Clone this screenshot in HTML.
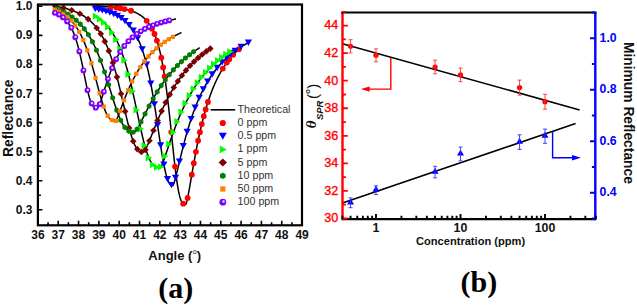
<!DOCTYPE html><html><head><meta charset="utf-8"><style>
*{margin:0;padding:0}
html,body{width:637px;height:305px;background:#fff;overflow:hidden}
svg{position:absolute;left:0;top:0}
text{font-family:"Liberation Sans",sans-serif}
.lyt{font-size:12px;font-weight:bold;text-anchor:end;fill:#111}
.lxt{font-size:12px;font-weight:bold;text-anchor:middle;fill:#111}
.ylab{font-size:13.8px;font-weight:bold;text-anchor:start;fill:#111}
.xlab{font-size:13px;font-weight:bold;fill:#111}
.leg{font-size:10.7px;fill:#333}
.plab{font-family:"Liberation Serif",serif;font-size:30px;font-weight:bold;text-anchor:middle;fill:#000}
.ryt{font-size:12.6px;text-anchor:end;fill:#ff0000;stroke:#ff0000;stroke-width:0.35px}
.bt{font-size:12.3px;font-weight:bold;fill:#0000ff}
.rxt{font-size:12.4px;font-weight:bold;text-anchor:middle;fill:#111}
.clab{font-size:11.1px;font-weight:bold;fill:#111}
.th{fill:#111}
.thg{font-family:"Liberation Serif",serif;font-style:italic;font-weight:bold;font-size:15px}
.sub{font-size:9.5px;font-style:italic;font-weight:bold}
.par{font-size:15px;font-weight:normal}
.deg{font-size:7.5px;font-weight:bold}
</style></head><body><svg width="637" height="305" viewBox="0 0 637 305">
<g id="left">
<defs><clipPath id="lc"><rect x="37.9" y="4.5" width="264" height="221"/></clipPath></defs>
<g clip-path="url(#lc)">
<polyline fill="none" stroke="#000" stroke-width="1.5" points="95.5,6.02 95.86,6.03 96.22,6.05 96.59,6.07 96.95,6.09 97.31,6.1 97.67,6.12 98.04,6.14 98.4,6.16 98.76,6.18 99.12,6.2 99.48,6.22 99.85,6.24 100.21,6.26 100.57,6.28 100.93,6.3 101.29,6.32 101.66,6.34 102.02,6.37 102.38,6.39 102.74,6.41 103.11,6.44 103.47,6.46 103.83,6.48 104.19,6.51 104.55,6.53 104.92,6.56 105.28,6.59 105.64,6.61 106,6.64 106.36,6.67 106.73,6.7 107.09,6.72 107.45,6.75 107.81,6.78 108.18,6.81 108.54,6.84 108.9,6.88 109.26,6.91 109.62,6.94 109.99,6.97 110.35,7.01 110.71,7.04 111.07,7.08 111.43,7.11 111.8,7.15 112.16,7.19 112.52,7.22 112.88,7.26 113.25,7.3 113.61,7.34 113.97,7.38 114.33,7.43 114.69,7.47 115.06,7.51 115.42,7.56 115.78,7.6 116.14,7.65 116.51,7.69 116.87,7.74 117.23,7.79 117.59,7.84 117.95,7.89 118.32,7.95 118.68,8 119.04,8.05 119.4,8.11 119.76,8.17 120.13,8.23 120.49,8.29 120.85,8.35 121.21,8.41 121.58,8.47 121.94,8.54 122.3,8.6 122.66,8.67 123.02,8.74 123.39,8.81 123.75,8.88 124.11,8.96 124.47,9.04 124.83,9.11 125.2,9.19 125.56,9.27 125.92,9.36 126.28,9.44 126.65,9.53 127.01,9.62 127.37,9.71 127.73,9.81 128.09,9.9 128.46,10 128.82,10.1 129.18,10.21 129.54,10.31 129.9,10.42 130.27,10.53 130.63,10.65 130.99,10.77 131.35,10.89 131.72,11.01 132.08,11.14 132.44,11.27 132.8,11.4 133.16,11.54 133.53,11.68 133.89,11.82 134.25,11.97 134.61,12.12 134.97,12.28 135.34,12.44 135.7,12.6 136.06,12.77 136.42,12.95 136.79,13.13 137.15,13.31 137.51,13.5 137.87,13.7 138.23,13.9 138.6,14.1 138.96,14.32 139.32,14.54 139.68,14.76 140.05,14.99 140.41,15.23 140.77,15.48 141.13,15.73 141.49,15.99 141.86,16.26 142.22,16.54 142.58,16.82 142.94,17.12 143.3,17.42 143.67,17.74 144.03,18.06 144.39,18.39 144.75,18.74 145.12,19.09 145.48,19.46 145.84,19.84 146.2,20.23 146.56,20.63 146.93,21.05 147.29,21.48 147.65,21.93 148.01,22.39 148.37,22.87 148.74,23.36 149.1,23.87 149.46,24.4 149.82,24.94 150.19,25.51 150.55,26.09 150.91,26.7 151.27,27.33 151.63,27.98 152,28.65 152.36,29.35 152.72,30.07 153.08,30.82 153.44,31.59 153.81,32.4 154.17,33.23 154.53,34.09 154.89,34.99 155.26,35.92 155.62,36.88 155.98,37.88 156.34,38.92 156.7,39.99 157.07,41.11 157.43,42.26 157.79,43.46 158.15,44.71 158.52,46 158.88,47.34 159.24,48.73 159.6,50.18 159.96,51.67 160.33,53.22 160.69,54.83 161.05,56.5 161.41,58.23 161.77,60.02 162.14,61.88 162.5,63.8 162.86,65.79 163.22,67.85 163.59,69.98 163.95,72.18 164.31,74.46 164.67,76.81 165.03,79.23 165.4,81.73 165.76,84.31 166.12,86.96 166.48,89.69 166.84,92.5 167.21,95.37 167.57,98.32 167.93,101.34 168.29,104.43 168.66,107.58 169.02,110.79 169.38,114.06 169.74,117.38 170.1,120.75 170.47,124.15 170.83,127.59 171.19,131.06 171.55,134.54 171.91,138.02 172.28,141.51 172.64,144.98 173,148.44 173.36,151.86 173.73,155.24 174.09,158.56 174.45,161.82 174.81,165 175.17,168.1 175.54,171.1 175.9,174 176.26,176.78 176.62,179.44 176.98,181.97 177.35,184.36 177.71,186.61 178.07,188.72 178.43,190.68 178.8,192.49 179.16,194.16 179.52,195.67 179.88,197.04 180.24,198.27 180.61,199.36 180.97,200.31 181.33,201.14 181.69,201.85 182.06,202.45 182.42,202.95 182.78,203.35 183.14,203.67 183.5,203.91 183.87,204.09 184.23,204.21 184.59,204.29 184.95,204.33 185.31,204.35 185.68,204.36 186.04,204.01 186.4,202.98 186.76,201.67 187.13,200.17 187.49,198.53 187.85,196.78 188.21,194.95 188.57,193.04 188.94,191.09 189.3,189.08 189.66,187.05 190.02,184.98 190.38,182.9 190.75,180.81 191.11,178.7 191.47,176.6 191.83,174.5 192.2,172.4 192.56,170.31 192.92,168.23 193.28,166.16 193.64,164.11 194.01,162.08 194.37,160.06 194.73,158.07 195.09,156.1 195.45,154.14 195.82,152.22 196.18,150.31 196.54,148.43 196.9,146.58 197.27,144.75 197.63,142.95 197.99,141.17 198.35,139.42 198.71,137.7 199.08,136 199.44,134.33 199.8,132.68 200.16,131.06 200.53,129.46 200.89,127.9 201.25,126.35 201.61,124.83 201.97,123.34 202.34,121.87 202.7,120.43 203.06,119.01 203.42,117.61 203.78,116.24 204.15,114.89 204.51,113.56 204.87,112.25 205.23,110.97 205.6,109.71 205.96,108.47 206.32,107.25 206.68,106.05 207.04,104.87 207.41,103.71 207.77,102.58 208.13,101.46 208.49,100.35 208.85,99.27 209.22,98.21 209.58,97.16 209.94,96.13 210.3,95.12 210.67,94.12 211.03,93.14 211.39,92.18 211.75,91.23 212.11,90.3 212.48,89.38 212.84,88.48 213.2,87.6 213.56,86.72 213.92,85.86 214.29,85.02 214.65,84.19 215.01,83.37 215.37,82.57 215.74,81.77 216.1,80.99 216.46,80.23 216.82,79.47 217.18,78.73 217.55,77.99 217.91,77.27 218.27,76.56 218.63,75.86 218.99,75.18 219.36,74.5 219.72,73.83 220.08,73.17 220.44,72.53 220.81,71.89 221.17,71.26 221.53,70.64 221.89,70.03 222.25,69.43 222.62,68.84 222.98,68.25 223.34,67.68 223.7,67.11 224.07,66.55 224.43,66 224.79,65.46 225.15,64.92 225.51,64.4 225.88,63.88 226.24,63.36 226.6,62.86 226.96,62.36 227.32,61.87 227.69,61.38 228.05,60.9 228.41,60.43 228.77,59.96 229.14,59.51 229.5,59.05 229.86,58.61 230.22,58.16 230.58,57.73 230.95,57.3 231.31,56.88 231.67,56.46 232.03,56.04 232.39,55.64 232.76,55.23 233.12,54.84 233.48,54.44 233.84,54.06 234.21,53.68 234.57,53.3 234.93,52.93 235.29,52.56 235.65,52.19 236.02,51.84 236.38,51.48 236.74,51.13 237.1,50.79 237.46,50.44 237.83,50.11 238.19,49.77 238.55,49.44 238.91,49.12 239.28,48.8 239.64,48.48 240,48.17"/>
<polyline fill="none" stroke="#000" stroke-width="1.5" points="95,8.79 95.38,8.86 95.77,8.93 96.15,9 96.54,9.07 96.92,9.14 97.31,9.22 97.69,9.29 98.08,9.37 98.46,9.45 98.84,9.53 99.23,9.61 99.61,9.69 100,9.77 100.38,9.86 100.77,9.94 101.15,10.03 101.54,10.12 101.92,10.21 102.3,10.3 102.69,10.4 103.07,10.5 103.46,10.59 103.84,10.69 104.23,10.8 104.61,10.9 105,11.01 105.38,11.11 105.76,11.22 106.15,11.34 106.53,11.45 106.92,11.57 107.3,11.69 107.69,11.81 108.07,11.93 108.46,12.06 108.84,12.19 109.23,12.32 109.61,12.45 109.99,12.59 110.38,12.73 110.76,12.87 111.15,13.02 111.53,13.16 111.92,13.31 112.3,13.47 112.69,13.63 113.07,13.79 113.45,13.95 113.84,14.12 114.22,14.29 114.61,14.47 114.99,14.65 115.38,14.83 115.76,15.02 116.15,15.21 116.53,15.41 116.91,15.61 117.3,15.81 117.68,16.02 118.07,16.23 118.45,16.45 118.84,16.68 119.22,16.9 119.61,17.14 119.99,17.38 120.37,17.62 120.76,17.87 121.14,18.13 121.53,18.39 121.91,18.66 122.3,18.94 122.68,19.22 123.07,19.51 123.45,19.81 123.83,20.11 124.22,20.42 124.6,20.74 124.99,21.07 125.37,21.4 125.76,21.75 126.14,22.1 126.53,22.46 126.91,22.83 127.29,23.21 127.68,23.6 128.06,24 128.45,24.41 128.83,24.83 129.22,25.26 129.6,25.7 129.99,26.16 130.37,26.62 130.75,27.1 131.14,27.59 131.52,28.1 131.91,28.62 132.29,29.15 132.68,29.7 133.06,30.26 133.45,30.84 133.83,31.43 134.22,32.04 134.6,32.67 134.98,33.31 135.37,33.98 135.75,34.66 136.14,35.36 136.52,36.08 136.91,36.82 137.29,37.58 137.68,38.37 138.06,39.17 138.44,40 138.83,40.85 139.21,41.73 139.6,42.63 139.98,43.56 140.37,44.52 140.75,45.5 141.14,46.51 141.52,47.55 141.9,48.62 142.29,49.72 142.67,50.86 143.06,52.02 143.44,53.22 143.83,54.45 144.21,55.72 144.6,57.03 144.98,58.37 145.36,59.75 145.75,61.16 146.13,62.62 146.52,64.12 146.9,65.65 147.29,67.23 147.67,68.85 148.06,70.52 148.44,72.22 148.82,73.98 149.21,75.77 149.59,77.61 149.98,79.5 150.36,81.43 150.75,83.4 151.13,85.43 151.52,87.49 151.9,89.6 152.28,91.76 152.67,93.95 153.05,96.19 153.44,98.48 153.82,100.8 154.21,103.15 154.59,105.55 154.98,107.98 155.36,110.44 155.74,112.93 156.13,115.45 156.51,117.99 156.9,120.55 157.28,123.12 157.67,125.71 158.05,128.3 158.44,130.89 158.82,133.49 159.21,136.07 159.59,138.64 159.97,141.19 160.36,143.72 160.74,146.22 161.13,148.68 161.51,151.09 161.9,153.46 162.28,155.78 162.67,158.03 163.05,160.22 163.43,162.33 163.82,164.37 164.2,166.32 164.59,168.19 164.97,169.97 165.36,171.65 165.74,173.24 166.13,174.72 166.51,176.11 166.89,177.39 167.28,178.57 167.66,179.64 168.05,180.61 168.43,181.48 168.82,182.25 169.2,182.92 169.59,183.5 169.97,183.98 170.35,184.39 170.74,184.71 171.12,184.96 171.51,185.14 171.89,185.27 172.28,185.34 172.66,185.38 173.05,185.39 173.43,184.77 173.81,183.75 174.2,182.57 174.58,181.28 174.97,179.91 175.35,178.48 175.74,177 176.12,175.48 176.51,173.93 176.89,172.36 177.27,170.78 177.66,169.18 178.04,167.57 178.43,165.96 178.81,164.35 179.2,162.74 179.58,161.13 179.97,159.53 180.35,157.93 180.73,156.34 181.12,154.77 181.5,153.2 181.89,151.64 182.27,150.1 182.66,148.57 183.04,147.05 183.43,145.55 183.81,144.07 184.19,142.6 184.58,141.15 184.96,139.71 185.35,138.29 185.73,136.88 186.12,135.5 186.5,134.13 186.89,132.77 187.27,131.44 187.66,130.12 188.04,128.82 188.42,127.53 188.81,126.26 189.19,125.01 189.58,123.78 189.96,122.56 190.35,121.36 190.73,120.18 191.12,119.01 191.5,117.86 191.88,116.72 192.27,115.6 192.65,114.49 193.04,113.4 193.42,112.33 193.81,111.27 194.19,110.23 194.58,109.2 194.96,108.18 195.34,107.18 195.73,106.19 196.11,105.22 196.5,104.26 196.88,103.32 197.27,102.38 197.65,101.46 198.04,100.56 198.42,99.66 198.8,98.78 199.19,97.91 199.57,97.05 199.96,96.21 200.34,95.38 200.73,94.55 201.11,93.74 201.5,92.94 201.88,92.15 202.26,91.38 202.65,90.61 203.03,89.85 203.42,89.1 203.8,88.37 204.19,87.64 204.57,86.93 204.96,86.22 205.34,85.52 205.72,84.83 206.11,84.15 206.49,83.48 206.88,82.82 207.26,82.17 207.65,81.52 208.03,80.89 208.42,80.26 208.8,79.64 209.18,79.03 209.57,78.43 209.95,77.83 210.34,77.24 210.72,76.66 211.11,76.09 211.49,75.52 211.88,74.96 212.26,74.41 212.65,73.87 213.03,73.33 213.41,72.8 213.8,72.27 214.18,71.75 214.57,71.24 214.95,70.74 215.34,70.24 215.72,69.74 216.11,69.26 216.49,68.77 216.87,68.3 217.26,67.83 217.64,67.36 218.03,66.9 218.41,66.45 218.8,66 219.18,65.56 219.57,65.12 219.95,64.69 220.33,64.26 220.72,63.84 221.1,63.42 221.49,63.01 221.87,62.6 222.26,62.19 222.64,61.8 223.03,61.4 223.41,61.01 223.79,60.62 224.18,60.24 224.56,59.86 224.95,59.49 225.33,59.12 225.72,58.76 226.1,58.4 226.49,58.04 226.87,57.69 227.25,57.34 227.64,56.99 228.02,56.65 228.41,56.31 228.79,55.98 229.18,55.64 229.56,55.32 229.95,54.99 230.33,54.67 230.71,54.35 231.1,54.04 231.48,53.73 231.87,53.42 232.25,53.12 232.64,52.82 233.02,52.52 233.41,52.22 233.79,51.93 234.17,51.64 234.56,51.35 234.94,51.07 235.33,50.79 235.71,50.51 236.1,50.24 236.48,49.96 236.87,49.69 237.25,49.43 237.64,49.16 238.02,48.9 238.4,48.64 238.79,48.38 239.17,48.13 239.56,47.88 239.94,47.63 240.33,47.38 240.71,47.13 241.1,46.89 241.48,46.65 241.86,46.41 242.25,46.18 242.63,45.94 243.02,45.71 243.4,45.48 243.79,45.26 244.17,45.03 244.56,44.81 244.94,44.59 245.32,44.37 245.71,44.15 246.09,43.94 246.48,43.72 246.86,43.51 247.25,43.3 247.63,43.09 248.02,42.89 248.4,42.68"/>
<polyline fill="none" stroke="#000" stroke-width="1.5" points="95.5,16.02 95.84,16.23 96.19,16.44 96.53,16.65 96.88,16.87 97.22,17.09 97.57,17.32 97.91,17.55 98.26,17.79 98.6,18.03 98.95,18.27 99.29,18.52 99.64,18.78 99.98,19.04 100.32,19.3 100.67,19.57 101.01,19.84 101.36,20.13 101.7,20.41 102.05,20.7 102.39,21 102.74,21.3 103.08,21.61 103.43,21.93 103.77,22.25 104.12,22.58 104.46,22.91 104.8,23.25 105.15,23.6 105.49,23.95 105.84,24.32 106.18,24.69 106.53,25.06 106.87,25.45 107.22,25.84 107.56,26.24 107.91,26.65 108.25,27.07 108.6,27.49 108.94,27.93 109.28,28.37 109.63,28.82 109.97,29.28 110.32,29.76 110.66,30.24 111.01,30.73 111.35,31.23 111.7,31.74 112.04,32.26 112.39,32.8 112.73,33.34 113.08,33.9 113.42,34.47 113.76,35.04 114.11,35.64 114.45,36.24 114.8,36.86 115.14,37.49 115.49,38.13 115.83,38.78 116.18,39.45 116.52,40.13 116.87,40.83 117.21,41.54 117.56,42.27 117.9,43.01 118.24,43.77 118.59,44.54 118.93,45.32 119.28,46.13 119.62,46.95 119.97,47.78 120.31,48.64 120.66,49.51 121,50.39 121.35,51.3 121.69,52.22 122.04,53.16 122.38,54.12 122.72,55.1 123.07,56.09 123.41,57.1 123.76,58.14 124.1,59.19 124.45,60.26 124.79,61.35 125.14,62.46 125.48,63.59 125.83,64.74 126.17,65.91 126.52,67.1 126.86,68.31 127.2,69.54 127.55,70.79 127.89,72.06 128.24,73.35 128.58,74.66 128.93,75.99 129.27,77.33 129.62,78.7 129.96,80.08 130.31,81.49 130.65,82.91 130.99,84.35 131.34,85.8 131.68,87.27 132.03,88.76 132.37,90.26 132.72,91.78 133.06,93.31 133.41,94.86 133.75,96.42 134.1,97.99 134.44,99.57 134.79,101.16 135.13,102.75 135.47,104.36 135.82,105.97 136.16,107.59 136.51,109.21 136.85,110.83 137.2,112.46 137.54,114.08 137.89,115.71 138.23,117.33 138.58,118.94 138.92,120.55 139.27,122.16 139.61,123.75 139.95,125.33 140.3,126.9 140.64,128.46 140.99,130 141.33,131.52 141.68,133.02 142.02,134.51 142.37,135.97 142.71,137.41 143.06,138.82 143.4,140.21 143.75,141.57 144.09,142.9 144.43,144.2 144.78,145.46 145.12,146.7 145.47,147.9 145.81,149.07 146.16,150.2 146.5,151.29 146.85,152.35 147.19,153.37 147.54,154.35 147.88,155.29 148.23,156.2 148.57,157.06 148.91,157.89 149.26,158.67 149.6,159.42 149.95,160.13 150.29,160.8 150.64,161.43 150.98,162.02 151.33,162.58 151.67,163.1 152.02,163.59 152.36,164.04 152.71,164.45 153.05,164.83 153.39,165.19 153.74,165.51 154.08,165.8 154.43,166.06 154.77,166.3 155.12,166.51 155.46,166.69 155.81,166.85 156.15,166.99 156.5,167.12 156.84,167.22 157.19,167.3 157.53,167.37 157.87,167.43 158.22,167.47 158.56,167.51 158.91,167.53 159.25,167.54 159.6,167.55 159.94,167.56 160.29,167.56 160.63,167.55 160.98,167.07 161.32,166.41 161.67,165.68 162.01,164.88 162.35,164.03 162.7,163.15 163.04,162.24 163.39,161.3 163.73,160.35 164.08,159.38 164.42,158.39 164.77,157.39 165.11,156.38 165.46,155.37 165.8,154.35 166.15,153.32 166.49,152.3 166.83,151.27 167.18,150.24 167.52,149.2 167.87,148.17 168.21,147.14 168.56,146.12 168.9,145.09 169.25,144.07 169.59,143.06 169.94,142.04 170.28,141.03 170.63,140.03 170.97,139.03 171.31,138.04 171.66,137.05 172,136.07 172.35,135.1 172.69,134.13 173.04,133.17 173.38,132.22 173.73,131.27 174.07,130.33 174.42,129.4 174.76,128.47 175.11,127.55 175.45,126.64 175.79,125.74 176.14,124.85 176.48,123.96 176.83,123.08 177.17,122.21 177.52,121.34 177.86,120.49 178.21,119.64 178.55,118.8 178.9,117.96 179.24,117.14 179.59,116.32 179.93,115.51 180.27,114.7 180.62,113.91 180.96,113.12 181.31,112.34 181.65,111.57 182,110.8 182.34,110.04 182.69,109.29 183.03,108.55 183.38,107.81 183.72,107.09 184.07,106.36 184.41,105.65 184.75,104.94 185.1,104.24 185.44,103.55 185.79,102.86 186.13,102.18 186.48,101.5 186.82,100.84 187.17,100.18 187.51,99.52 187.86,98.88 188.2,98.23 188.55,97.6 188.89,96.97 189.23,96.35 189.58,95.73 189.92,95.12 190.27,94.52 190.61,93.92 190.96,93.33 191.3,92.74 191.65,92.16 191.99,91.59 192.34,91.02 192.68,90.45 193.03,89.89 193.37,89.34 193.71,88.79 194.06,88.25 194.4,87.72 194.75,87.18 195.09,86.66 195.44,86.14 195.78,85.62 196.13,85.11 196.47,84.6 196.82,84.1 197.16,83.6 197.51,83.11 197.85,82.62 198.19,82.14 198.54,81.66 198.88,81.19 199.23,80.72 199.57,80.25 199.92,79.79 200.26,79.34 200.61,78.88 200.95,78.44 201.3,77.99 201.64,77.55 201.98,77.12 202.33,76.69 202.67,76.26 203.02,75.84 203.36,75.42 203.71,75 204.05,74.59 204.4,74.18 204.74,73.78 205.09,73.38 205.43,72.98 205.78,72.59 206.12,72.2 206.46,71.81 206.81,71.43 207.15,71.05 207.5,70.67 207.84,70.3 208.19,69.93 208.53,69.56 208.88,69.2 209.22,68.84 209.57,68.48 209.91,68.13 210.26,67.78 210.6,67.43 210.94,67.09 211.29,66.75 211.63,66.41 211.98,66.07 212.32,65.74 212.67,65.41 213.01,65.08 213.36,64.76 213.7,64.44 214.05,64.12 214.39,63.8 214.74,63.49 215.08,63.18 215.42,62.87 215.77,62.57 216.11,62.26 216.46,61.96 216.8,61.66 217.15,61.37 217.49,61.08 217.84,60.78 218.18,60.5 218.53,60.21 218.87,59.93 219.22,59.65 219.56,59.37 219.9,59.09 220.25,58.82 220.59,58.54 220.94,58.27 221.28,58 221.63,57.74 221.97,57.48 222.32,57.21 222.66,56.95 223.01,56.7 223.35,56.44 223.7,56.19 224.04,55.94 224.38,55.69 224.73,55.44 225.07,55.19 225.42,54.95 225.76,54.71 226.11,54.47 226.45,54.23 226.8,53.99 227.14,53.76 227.49,53.53 227.83,53.29 228.18,53.06 228.52,52.84 228.86,52.61 229.21,52.39 229.55,52.16 229.9,51.94 230.24,51.72 230.59,51.51 230.93,51.29 231.28,51.08 231.62,50.86 231.97,50.65 232.31,50.44 232.66,50.24 233,50.03"/>
<polyline fill="none" stroke="#000" stroke-width="1.5" points="55,6.15 55.39,6.22 55.78,6.28 56.17,6.35 56.55,6.42 56.94,6.49 57.33,6.57 57.72,6.64 58.11,6.71 58.5,6.79 58.88,6.87 59.27,6.95 59.66,7.02 60.05,7.11 60.44,7.19 60.83,7.27 61.22,7.36 61.6,7.44 61.99,7.53 62.38,7.62 62.77,7.71 63.16,7.8 63.55,7.89 63.93,7.99 64.32,8.09 64.71,8.19 65.1,8.29 65.49,8.39 65.88,8.49 66.27,8.6 66.65,8.7 67.04,8.81 67.43,8.92 67.82,9.04 68.21,9.15 68.6,9.27 68.98,9.39 69.37,9.51 69.76,9.63 70.15,9.75 70.54,9.88 70.93,10.01 71.32,10.14 71.7,10.28 72.09,10.42 72.48,10.56 72.87,10.7 73.26,10.84 73.65,10.99 74.04,11.14 74.42,11.29 74.81,11.45 75.2,11.61 75.59,11.77 75.98,11.93 76.37,12.1 76.75,12.27 77.14,12.45 77.53,12.62 77.92,12.81 78.31,12.99 78.7,13.18 79.09,13.37 79.47,13.57 79.86,13.77 80.25,13.97 80.64,14.18 81.03,14.39 81.42,14.6 81.8,14.82 82.19,15.05 82.58,15.28 82.97,15.51 83.36,15.75 83.75,15.99 84.14,16.24 84.52,16.5 84.91,16.76 85.3,17.02 85.69,17.29 86.08,17.57 86.47,17.85 86.85,18.13 87.24,18.43 87.63,18.73 88.02,19.03 88.41,19.35 88.8,19.67 89.19,19.99 89.57,20.33 89.96,20.67 90.35,21.01 90.74,21.37 91.13,21.73 91.52,22.1 91.9,22.48 92.29,22.87 92.68,23.27 93.07,23.67 93.46,24.09 93.85,24.51 94.24,24.94 94.62,25.39 95.01,25.84 95.4,26.3 95.79,26.77 96.18,27.26 96.57,27.75 96.95,28.26 97.34,28.78 97.73,29.31 98.12,29.85 98.51,30.4 98.9,30.97 99.29,31.55 99.67,32.14 100.06,32.75 100.45,33.37 100.84,34 101.23,34.65 101.62,35.31 102.01,35.99 102.39,36.69 102.78,37.4 103.17,38.13 103.56,38.87 103.95,39.63 104.34,40.41 104.72,41.2 105.11,42.02 105.5,42.85 105.89,43.7 106.28,44.57 106.67,45.46 107.06,46.37 107.44,47.3 107.83,48.25 108.22,49.22 108.61,50.21 109,51.22 109.39,52.26 109.77,53.31 110.16,54.39 110.55,55.49 110.94,56.62 111.33,57.76 111.72,58.93 112.11,60.13 112.49,61.34 112.88,62.58 113.27,63.85 113.66,65.13 114.05,66.44 114.44,67.78 114.82,69.13 115.21,70.51 115.6,71.92 115.99,73.34 116.38,74.79 116.77,76.26 117.16,77.75 117.54,79.26 117.93,80.79 118.32,82.35 118.71,83.92 119.1,85.51 119.49,87.11 119.87,88.73 120.26,90.37 120.65,92.02 121.04,93.68 121.43,95.35 121.82,97.04 122.21,98.73 122.59,100.42 122.98,102.12 123.37,103.83 123.76,105.53 124.15,107.23 124.54,108.93 124.92,110.63 125.31,112.31 125.7,113.99 126.09,115.65 126.48,117.3 126.87,118.93 127.26,120.55 127.64,122.14 128.03,123.71 128.42,125.25 128.81,126.76 129.2,128.24 129.59,129.68 129.97,131.1 130.36,132.47 130.75,133.8 131.14,135.1 131.53,136.35 131.92,137.55 132.31,138.71 132.69,139.82 133.08,140.88 133.47,141.9 133.86,142.86 134.25,143.77 134.64,144.63 135.03,145.44 135.41,146.2 135.8,146.91 136.19,147.56 136.58,148.17 136.97,148.72 137.36,149.23 137.74,149.69 138.13,150.1 138.52,150.47 138.91,150.79 139.3,151.07 139.69,151.32 140.08,151.52 140.46,151.7 140.85,151.84 141.24,151.95 141.63,152.03 142.02,152.09 142.41,152.13 142.79,152.15 143.18,152.16 143.57,152.17 143.96,151.88 144.35,151.4 144.74,150.81 145.13,150.16 145.51,149.45 145.9,148.7 146.29,147.91 146.68,147.09 147.07,146.25 147.46,145.38 147.84,144.49 148.23,143.59 148.62,142.67 149.01,141.74 149.4,140.8 149.79,139.84 150.18,138.89 150.56,137.92 150.95,136.95 151.34,135.98 151.73,135 152.12,134.03 152.51,133.05 152.89,132.07 153.28,131.09 153.67,130.11 154.06,129.14 154.45,128.17 154.84,127.2 155.23,126.23 155.61,125.27 156,124.31 156.39,123.36 156.78,122.41 157.17,121.46 157.56,120.52 157.94,119.59 158.33,118.67 158.72,117.74 159.11,116.83 159.5,115.92 159.89,115.02 160.28,114.13 160.66,113.24 161.05,112.36 161.44,111.48 161.83,110.62 162.22,109.76 162.61,108.91 162.99,108.06 163.38,107.22 163.77,106.39 164.16,105.57 164.55,104.76 164.94,103.95 165.33,103.15 165.71,102.36 166.1,101.57 166.49,100.8 166.88,100.02 167.27,99.26 167.66,98.51 168.05,97.76 168.43,97.02 168.82,96.29 169.21,95.56 169.6,94.84 169.99,94.13 170.38,93.42 170.76,92.73 171.15,92.04 171.54,91.35 171.93,90.68 172.32,90.01 172.71,89.34 173.1,88.69 173.48,88.04 173.87,87.4 174.26,86.76 174.65,86.13 175.04,85.51 175.43,84.89 175.81,84.28 176.2,83.68 176.59,83.08 176.98,82.49 177.37,81.9 177.76,81.32 178.15,80.75 178.53,80.18 178.92,79.62 179.31,79.06 179.7,78.51 180.09,77.97 180.48,77.43 180.86,76.9 181.25,76.37 181.64,75.84 182.03,75.33 182.42,74.82 182.81,74.31 183.2,73.81 183.58,73.31 183.97,72.82 184.36,72.33 184.75,71.85 185.14,71.37 185.53,70.9 185.91,70.44 186.3,69.97 186.69,69.52 187.08,69.06 187.47,68.61 187.86,68.17 188.25,67.73 188.63,67.29 189.02,66.86 189.41,66.44 189.8,66.01 190.19,65.6 190.58,65.18 190.96,64.77 191.35,64.37 191.74,63.96 192.13,63.57 192.52,63.17 192.91,62.78 193.3,62.39 193.68,62.01 194.07,61.63 194.46,61.26 194.85,60.88 195.24,60.52 195.63,60.15 196.02,59.79 196.4,59.43 196.79,59.08 197.18,58.73 197.57,58.38 197.96,58.03 198.35,57.69 198.73,57.35 199.12,57.02 199.51,56.69 199.9,56.36 200.29,56.03 200.68,55.71 201.07,55.39 201.45,55.07 201.84,54.76 202.23,54.45 202.62,54.14 203.01,53.83 203.4,53.53 203.78,53.23 204.17,52.94 204.56,52.64 204.95,52.35 205.34,52.06 205.73,51.77 206.12,51.49 206.5,51.21 206.89,50.93 207.28,50.65 207.67,50.38 208.06,50.11 208.45,49.84 208.83,49.57 209.22,49.31 209.61,49.04 210,48.78"/>
<polyline fill="none" stroke="#000" stroke-width="1.5" points="55,8.47 55.36,8.59 55.73,8.72 56.09,8.84 56.45,8.97 56.81,9.1 57.18,9.23 57.54,9.36 57.9,9.5 58.26,9.64 58.63,9.78 58.99,9.92 59.35,10.07 59.71,10.21 60.08,10.36 60.44,10.51 60.8,10.67 61.17,10.82 61.53,10.98 61.89,11.15 62.25,11.31 62.62,11.48 62.98,11.65 63.34,11.82 63.7,11.99 64.07,12.17 64.43,12.35 64.79,12.53 65.15,12.72 65.52,12.91 65.88,13.1 66.24,13.3 66.61,13.5 66.97,13.7 67.33,13.91 67.69,14.12 68.06,14.33 68.42,14.55 68.78,14.77 69.14,14.99 69.51,15.22 69.87,15.45 70.23,15.69 70.59,15.93 70.96,16.17 71.32,16.42 71.68,16.67 72.04,16.93 72.41,17.19 72.77,17.45 73.13,17.72 73.5,18 73.86,18.28 74.22,18.56 74.58,18.85 74.95,19.15 75.31,19.45 75.67,19.75 76.03,20.06 76.4,20.38 76.76,20.7 77.12,21.03 77.48,21.36 77.85,21.7 78.21,22.05 78.57,22.4 78.94,22.76 79.3,23.12 79.66,23.49 80.02,23.87 80.39,24.25 80.75,24.64 81.11,25.04 81.47,25.44 81.84,25.86 82.2,26.28 82.56,26.7 82.92,27.14 83.29,27.58 83.65,28.03 84.01,28.49 84.38,28.96 84.74,29.43 85.1,29.92 85.46,30.41 85.83,30.91 86.19,31.42 86.55,31.94 86.91,32.47 87.28,33.01 87.64,33.56 88,34.12 88.36,34.69 88.73,35.26 89.09,35.85 89.45,36.45 89.82,37.06 90.18,37.68 90.54,38.31 90.9,38.95 91.27,39.6 91.63,40.27 91.99,40.94 92.35,41.63 92.72,42.33 93.08,43.04 93.44,43.76 93.8,44.49 94.17,45.24 94.53,46 94.89,46.77 95.25,47.55 95.62,48.35 95.98,49.16 96.34,49.98 96.71,50.81 97.07,51.66 97.43,52.51 97.79,53.39 98.16,54.27 98.52,55.17 98.88,56.08 99.24,57 99.61,57.94 99.97,58.88 100.33,59.84 100.69,60.82 101.06,61.8 101.42,62.8 101.78,63.81 102.15,64.83 102.51,65.86 102.87,66.91 103.23,67.96 103.6,69.03 103.96,70.11 104.32,71.19 104.68,72.29 105.05,73.4 105.41,74.51 105.77,75.64 106.13,76.77 106.5,77.91 106.86,79.06 107.22,80.21 107.59,81.37 107.95,82.53 108.31,83.7 108.67,84.88 109.04,86.05 109.4,87.23 109.76,88.41 110.12,89.6 110.49,90.78 110.85,91.96 111.21,93.14 111.57,94.32 111.94,95.49 112.3,96.66 112.66,97.82 113.03,98.98 113.39,100.13 113.75,101.27 114.11,102.4 114.48,103.53 114.84,104.64 115.2,105.74 115.56,106.82 115.93,107.89 116.29,108.95 116.65,109.99 117.01,111.01 117.38,112.01 117.74,113 118.1,113.96 118.46,114.91 118.83,115.83 119.19,116.73 119.55,117.61 119.92,118.46 120.28,119.29 120.64,120.09 121,120.87 121.37,121.62 121.73,122.35 122.09,123.05 122.45,123.72 122.82,124.37 123.18,124.98 123.54,125.57 123.9,126.13 124.27,126.67 124.63,127.18 124.99,127.65 125.36,128.11 125.72,128.53 126.08,128.93 126.44,129.3 126.81,129.65 127.17,129.97 127.53,130.26 127.89,130.53 128.26,130.78 128.62,131 128.98,131.21 129.34,131.39 129.71,131.55 130.07,131.69 130.43,131.81 130.8,131.92 131.16,132.01 131.52,132.08 131.88,132.14 132.25,132.19 132.61,132.23 132.97,132.25 133.33,132.27 133.7,132.28 134.06,132.29 134.42,132.29 134.78,132.09 135.15,131.73 135.51,131.29 135.87,130.81 136.24,130.29 136.6,129.73 136.96,129.16 137.32,128.56 137.69,127.95 138.05,127.32 138.41,126.68 138.77,126.02 139.14,125.36 139.5,124.68 139.86,124 140.22,123.31 140.59,122.62 140.95,121.92 141.31,121.22 141.67,120.51 142.04,119.8 142.4,119.09 142.76,118.38 143.13,117.67 143.49,116.95 143.85,116.24 144.21,115.53 144.58,114.81 144.94,114.1 145.3,113.39 145.66,112.68 146.03,111.97 146.39,111.27 146.75,110.57 147.11,109.87 147.48,109.17 147.84,108.47 148.2,107.78 148.57,107.09 148.93,106.4 149.29,105.72 149.65,105.04 150.02,104.37 150.38,103.7 150.74,103.03 151.1,102.37 151.47,101.71 151.83,101.05 152.19,100.4 152.55,99.75 152.92,99.11 153.28,98.47 153.64,97.84 154.01,97.21 154.37,96.58 154.73,95.96 155.09,95.34 155.46,94.73 155.82,94.12 156.18,93.52 156.54,92.92 156.91,92.33 157.27,91.74 157.63,91.15 157.99,90.57 158.36,89.99 158.72,89.42 159.08,88.86 159.45,88.29 159.81,87.74 160.17,87.18 160.53,86.63 160.9,86.09 161.26,85.55 161.62,85.01 161.98,84.48 162.35,83.95 162.71,83.43 163.07,82.91 163.43,82.4 163.8,81.89 164.16,81.38 164.52,80.88 164.88,80.38 165.25,79.89 165.61,79.4 165.97,78.92 166.34,78.43 166.7,77.96 167.06,77.49 167.42,77.02 167.79,76.55 168.15,76.09 168.51,75.63 168.87,75.18 169.24,74.73 169.6,74.29 169.96,73.84 170.32,73.41 170.69,72.97 171.05,72.54 171.41,72.11 171.78,71.69 172.14,71.27 172.5,70.85 172.86,70.44 173.23,70.03 173.59,69.63 173.95,69.22 174.31,68.82 174.68,68.43 175.04,68.04 175.4,67.65 175.76,67.26 176.13,66.88 176.49,66.5 176.85,66.12 177.22,65.75 177.58,65.38 177.94,65.01 178.3,64.65 178.67,64.29 179.03,63.93 179.39,63.58 179.75,63.22 180.12,62.87 180.48,62.53 180.84,62.19 181.2,61.84 181.57,61.51 181.93,61.17 182.29,60.84 182.66,60.51 183.02,60.18 183.38,59.86 183.74,59.54 184.11,59.22 184.47,58.9 184.83,58.59 185.19,58.28 185.56,57.97 185.92,57.66 186.28,57.36 186.64,57.06 187.01,56.76 187.37,56.46 187.73,56.17 188.09,55.88 188.46,55.59 188.82,55.3 189.18,55.02 189.55,54.73 189.91,54.45 190.27,54.18 190.63,53.9 191,53.63 191.36,53.35 191.72,53.08 192.08,52.82 192.45,52.55 192.81,52.29 193.17,52.03 193.53,51.77 193.9,51.51 194.26,51.26 194.62,51 194.99,50.75 195.35,50.5 195.71,50.25 196.07,50.01 196.44,49.76 196.8,49.52 197.16,49.28 197.52,49.04 197.89,48.81 198.25,48.57 198.61,48.34 198.97,48.11 199.34,47.88 199.7,47.65"/>
<polyline fill="none" stroke="#000" stroke-width="1.5" points="54.5,9.7 54.82,9.83 55.14,9.96 55.45,10.09 55.77,10.22 56.09,10.35 56.41,10.49 56.73,10.63 57.05,10.77 57.36,10.92 57.68,11.07 58,11.22 58.32,11.37 58.64,11.53 58.96,11.69 59.27,11.85 59.59,12.01 59.91,12.18 60.23,12.35 60.55,12.53 60.87,12.7 61.18,12.88 61.5,13.07 61.82,13.26 62.14,13.45 62.46,13.64 62.78,13.84 63.09,14.04 63.41,14.25 63.73,14.46 64.05,14.67 64.37,14.89 64.69,15.11 65,15.34 65.32,15.57 65.64,15.81 65.96,16.05 66.28,16.29 66.6,16.54 66.91,16.79 67.23,17.05 67.55,17.32 67.87,17.59 68.19,17.86 68.51,18.15 68.82,18.43 69.14,18.72 69.46,19.02 69.78,19.33 70.1,19.64 70.41,19.95 70.73,20.28 71.05,20.61 71.37,20.94 71.69,21.28 72.01,21.63 72.32,21.99 72.64,22.36 72.96,22.73 73.28,23.11 73.6,23.5 73.92,23.89 74.23,24.29 74.55,24.71 74.87,25.13 75.19,25.55 75.51,25.99 75.83,26.44 76.14,26.9 76.46,27.36 76.78,27.84 77.1,28.32 77.42,28.82 77.74,29.32 78.05,29.84 78.37,30.36 78.69,30.9 79.01,31.45 79.33,32 79.65,32.57 79.96,33.16 80.28,33.75 80.6,34.35 80.92,34.97 81.24,35.6 81.56,36.24 81.87,36.9 82.19,37.57 82.51,38.25 82.83,38.94 83.15,39.65 83.46,40.37 83.78,41.11 84.1,41.86 84.42,42.62 84.74,43.4 85.06,44.19 85.37,45 85.69,45.82 86.01,46.65 86.33,47.5 86.65,48.37 86.97,49.25 87.28,50.14 87.6,51.05 87.92,51.98 88.24,52.92 88.56,53.87 88.88,54.84 89.19,55.82 89.51,56.82 89.83,57.83 90.15,58.86 90.47,59.89 90.79,60.95 91.1,62.01 91.42,63.09 91.74,64.18 92.06,65.29 92.38,66.4 92.7,67.53 93.01,68.67 93.33,69.81 93.65,70.97 93.97,72.13 94.29,73.31 94.61,74.49 94.92,75.67 95.24,76.86 95.56,78.06 95.88,79.26 96.2,80.46 96.52,81.67 96.83,82.87 97.15,84.08 97.47,85.28 97.79,86.48 98.11,87.67 98.42,88.87 98.74,90.05 99.06,91.23 99.38,92.39 99.7,93.55 100.02,94.7 100.33,95.83 100.65,96.95 100.97,98.05 101.29,99.13 101.61,100.2 101.93,101.25 102.24,102.28 102.56,103.28 102.88,104.26 103.2,105.22 103.52,106.16 103.84,107.07 104.15,107.95 104.47,108.8 104.79,109.62 105.11,110.42 105.43,111.19 105.75,111.92 106.06,112.63 106.38,113.3 106.7,113.94 107.02,114.55 107.34,115.13 107.66,115.68 107.97,116.2 108.29,116.68 108.61,117.13 108.93,117.56 109.25,117.95 109.57,118.31 109.88,118.65 110.2,118.95 110.52,119.23 110.84,119.48 111.16,119.71 111.47,119.91 111.79,120.09 112.11,120.24 112.43,120.38 112.75,120.49 113.07,120.59 113.38,120.66 113.7,120.73 114.02,120.78 114.34,120.81 114.66,120.84 114.98,120.85 115.29,120.86 115.61,120.86 115.93,120.82 116.25,120.33 116.57,119.72 116.89,119.05 117.2,118.32 117.52,117.57 117.84,116.78 118.16,115.98 118.48,115.16 118.8,114.32 119.11,113.48 119.43,112.63 119.75,111.78 120.07,110.92 120.39,110.05 120.71,109.19 121.02,108.33 121.34,107.47 121.66,106.61 121.98,105.75 122.3,104.89 122.62,104.04 122.93,103.19 123.25,102.35 123.57,101.51 123.89,100.68 124.21,99.86 124.53,99.04 124.84,98.22 125.16,97.41 125.48,96.61 125.8,95.82 126.12,95.03 126.43,94.25 126.75,93.48 127.07,92.71 127.39,91.95 127.71,91.2 128.03,90.46 128.34,89.72 128.66,89 128.98,88.27 129.3,87.56 129.62,86.86 129.94,86.16 130.25,85.47 130.57,84.78 130.89,84.11 131.21,83.44 131.53,82.77 131.85,82.12 132.16,81.47 132.48,80.83 132.8,80.2 133.12,79.57 133.44,78.95 133.76,78.34 134.07,77.74 134.39,77.14 134.71,76.55 135.03,75.96 135.35,75.38 135.67,74.81 135.98,74.25 136.3,73.69 136.62,73.14 136.94,72.59 137.26,72.05 137.58,71.52 137.89,70.99 138.21,70.47 138.53,69.95 138.85,69.44 139.17,68.93 139.48,68.44 139.8,67.94 140.12,67.45 140.44,66.97 140.76,66.49 141.08,66.02 141.39,65.56 141.71,65.1 142.03,64.64 142.35,64.19 142.67,63.74 142.99,63.3 143.3,62.87 143.62,62.43 143.94,62.01 144.26,61.59 144.58,61.17 144.9,60.76 145.21,60.35 145.53,59.94 145.85,59.54 146.17,59.15 146.49,58.76 146.81,58.37 147.12,57.99 147.44,57.61 147.76,57.23 148.08,56.86 148.4,56.5 148.72,56.13 149.03,55.78 149.35,55.42 149.67,55.07 149.99,54.72 150.31,54.38 150.63,54.04 150.94,53.7 151.26,53.36 151.58,53.03 151.9,52.71 152.22,52.38 152.54,52.06 152.85,51.75 153.17,51.43 153.49,51.12 153.81,50.82 154.13,50.51 154.44,50.21 154.76,49.91 155.08,49.62 155.4,49.32 155.72,49.03 156.04,48.75 156.35,48.46 156.67,48.18 156.99,47.9 157.31,47.63 157.63,47.35 157.95,47.08 158.26,46.82 158.58,46.55 158.9,46.29 159.22,46.03 159.54,45.77 159.86,45.52 160.17,45.26 160.49,45.01 160.81,44.76 161.13,44.52 161.45,44.27 161.77,44.03 162.08,43.79 162.4,43.56 162.72,43.32 163.04,43.09 163.36,42.86 163.68,42.63 163.99,42.41 164.31,42.18 164.63,41.96 164.95,41.74 165.27,41.52 165.59,41.3 165.9,41.09 166.22,40.88 166.54,40.67 166.86,40.46 167.18,40.25 167.49,40.05 167.81,39.84 168.13,39.64 168.45,39.44 168.77,39.24 169.09,39.05 169.4,38.85 169.72,38.66 170.04,38.47 170.36,38.28 170.68,38.09 171,37.91 171.31,37.72 171.63,37.54 171.95,37.36 172.27,37.17 172.59,37 172.91,36.82 173.22,36.64 173.54,36.47 173.86,36.3 174.18,36.12 174.5,35.95 174.82,35.79 175.13,35.62 175.45,35.45 175.77,35.29 176.09,35.12 176.41,34.96 176.73,34.8 177.04,34.64 177.36,34.48 177.68,34.33 178,34.17 178.32,34.02 178.64,33.86 178.95,33.71 179.27,33.56 179.59,33.41 179.91,33.26 180.23,33.11 180.55,32.97 180.86,32.82 181.18,32.68 181.5,32.54"/>
<polyline fill="none" stroke="#000" stroke-width="1.5" points="54.5,12.73 54.8,12.84 55.11,12.96 55.41,13.07 55.72,13.2 56.02,13.32 56.33,13.45 56.63,13.59 56.94,13.72 57.24,13.86 57.55,14.01 57.85,14.16 58.15,14.31 58.46,14.47 58.76,14.63 59.07,14.79 59.37,14.96 59.68,15.14 59.98,15.32 60.29,15.51 60.59,15.7 60.89,15.89 61.2,16.1 61.5,16.31 61.81,16.52 62.11,16.74 62.42,16.97 62.72,17.21 63.03,17.45 63.33,17.7 63.64,17.96 63.94,18.22 64.24,18.5 64.55,18.78 64.85,19.07 65.16,19.37 65.46,19.68 65.77,20 66.07,20.33 66.38,20.67 66.68,21.02 66.98,21.38 67.29,21.76 67.59,22.14 67.9,22.54 68.2,22.95 68.51,23.38 68.81,23.82 69.12,24.27 69.42,24.74 69.73,25.22 70.03,25.72 70.33,26.24 70.64,26.77 70.94,27.32 71.25,27.88 71.55,28.47 71.86,29.08 72.16,29.7 72.47,30.35 72.77,31.01 73.08,31.7 73.38,32.41 73.68,33.14 73.99,33.9 74.29,34.68 74.6,35.48 74.9,36.31 75.21,37.17 75.51,38.05 75.82,38.96 76.12,39.9 76.42,40.86 76.73,41.85 77.03,42.87 77.34,43.92 77.64,45 77.95,46.1 78.25,47.24 78.56,48.41 78.86,49.6 79.17,50.82 79.47,52.08 79.77,53.36 80.08,54.66 80.38,56 80.69,57.36 80.99,58.74 81.3,60.15 81.6,61.58 81.91,63.03 82.21,64.5 82.52,65.98 82.82,67.48 83.12,69 83.43,70.52 83.73,72.05 84.04,73.58 84.34,75.11 84.65,76.65 84.95,78.17 85.26,79.69 85.56,81.19 85.86,82.68 86.17,84.14 86.47,85.59 86.78,87 87.08,88.39 87.39,89.74 87.69,91.05 88,92.33 88.3,93.56 88.61,94.74 88.91,95.88 89.21,96.96 89.52,97.99 89.82,98.97 90.13,99.89 90.43,100.76 90.74,101.56 91.04,102.32 91.35,103.01 91.65,103.65 91.95,104.24 92.26,104.77 92.56,105.25 92.87,105.68 93.17,106.06 93.48,106.39 93.78,106.68 94.09,106.93 94.39,107.14 94.7,107.32 95,107.46 95.3,107.58 95.61,107.67 95.91,107.73 96.22,107.78 96.52,107.81 96.83,107.83 97.13,107.84 97.44,107.85 97.74,107.85 98.05,107.62 98.35,107.18 98.65,106.64 98.96,106.02 99.26,105.33 99.57,104.59 99.87,103.8 100.18,102.98 100.48,102.12 100.79,101.24 101.09,100.34 101.39,99.41 101.7,98.47 102,97.52 102.31,96.56 102.61,95.59 102.92,94.62 103.22,93.64 103.53,92.66 103.83,91.68 104.14,90.7 104.44,89.72 104.74,88.75 105.05,87.78 105.35,86.82 105.66,85.86 105.96,84.91 106.27,83.97 106.57,83.04 106.88,82.11 107.18,81.2 107.48,80.29 107.79,79.4 108.09,78.51 108.4,77.63 108.7,76.77 109.01,75.91 109.31,75.07 109.62,74.24 109.92,73.42 110.23,72.61 110.53,71.81 110.83,71.02 111.14,70.24 111.44,69.48 111.75,68.72 112.05,67.98 112.36,67.25 112.66,66.53 112.97,65.82 113.27,65.12 113.58,64.43 113.88,63.75 114.18,63.08 114.49,62.42 114.79,61.78 115.1,61.14 115.4,60.51 115.71,59.89 116.01,59.29 116.32,58.69 116.62,58.1 116.92,57.52 117.23,56.95 117.53,56.39 117.84,55.84 118.14,55.29 118.45,54.76 118.75,54.23 119.06,53.71 119.36,53.2 119.67,52.7 119.97,52.2 120.27,51.72 120.58,51.24 120.88,50.77 121.19,50.3 121.49,49.85 121.8,49.4 122.1,48.95 122.41,48.52 122.71,48.09 123.02,47.67 123.32,47.25 123.62,46.84 123.93,46.44 124.23,46.04 124.54,45.65 124.84,45.26 125.15,44.88 125.45,44.51 125.76,44.14 126.06,43.78 126.36,43.42 126.67,43.07 126.97,42.72 127.28,42.38 127.58,42.04 127.89,41.71 128.19,41.38 128.5,41.06 128.8,40.74 129.11,40.43 129.41,40.12 129.71,39.82 130.02,39.52 130.32,39.22 130.63,38.93 130.93,38.64 131.24,38.36 131.54,38.08 131.85,37.81 132.15,37.53 132.45,37.27 132.76,37 133.06,36.74 133.37,36.48 133.67,36.23 133.98,35.98 134.28,35.73 134.59,35.49 134.89,35.25 135.2,35.01 135.5,34.78 135.8,34.55 136.11,34.32 136.41,34.1 136.72,33.88 137.02,33.66 137.33,33.44 137.63,33.23 137.94,33.02 138.24,32.81 138.55,32.61 138.85,32.4 139.15,32.2 139.46,32.01 139.76,31.81 140.07,31.62 140.37,31.43 140.68,31.24 140.98,31.06 141.29,30.87 141.59,30.69 141.89,30.51 142.2,30.34 142.5,30.16 142.81,29.99 143.11,29.82 143.42,29.65 143.72,29.49 144.03,29.32 144.33,29.16 144.64,29 144.94,28.84 145.24,28.68 145.55,28.53 145.85,28.38 146.16,28.22 146.46,28.08 146.77,27.93 147.07,27.78 147.38,27.64 147.68,27.49 147.98,27.35 148.29,27.21 148.59,27.08 148.9,26.94 149.2,26.8 149.51,26.67 149.81,26.54 150.12,26.41 150.42,26.28 150.73,26.15 151.03,26.02 151.33,25.9 151.64,25.78 151.94,25.65 152.25,25.53 152.55,25.41 152.86,25.3 153.16,25.18 153.47,25.06 153.77,24.95 154.08,24.83 154.38,24.72 154.68,24.61 154.99,24.5 155.29,24.39 155.6,24.28 155.9,24.18 156.21,24.07 156.51,23.97 156.82,23.86 157.12,23.76 157.42,23.66 157.73,23.56 158.03,23.46 158.34,23.36 158.64,23.26 158.95,23.17 159.25,23.07 159.56,22.98 159.86,22.88 160.17,22.79 160.47,22.7 160.77,22.61 161.08,22.52 161.38,22.43 161.69,22.34 161.99,22.25 162.3,22.17 162.6,22.08 162.91,22 163.21,21.91 163.52,21.83 163.82,21.74 164.12,21.66 164.43,21.58 164.73,21.5 165.04,21.42 165.34,21.34 165.65,21.26 165.95,21.19 166.26,21.11 166.56,21.03 166.86,20.96 167.17,20.88 167.47,20.81 167.78,20.74 168.08,20.66 168.39,20.59 168.69,20.52 169,20.45 169.3,20.38 169.61,20.31 169.91,20.24 170.21,20.17 170.52,20.1 170.82,20.04 171.13,19.97 171.43,19.9 171.74,19.84 172.04,19.77 172.35,19.71 172.65,19.64 172.95,19.58 173.26,19.52 173.56,19.46 173.87,19.39 174.17,19.33 174.48,19.27 174.78,19.21 175.09,19.15 175.39,19.09 175.7,19.03 176,18.98"/>
<circle cx="96.1" cy="6.04" r="2.9" fill="#ff0000"/>
<circle cx="110.5" cy="7.02" r="2.9" fill="#ff0000"/>
<circle cx="116.5" cy="7.69" r="2.9" fill="#ff0000"/>
<circle cx="120.3" cy="8.25" r="2.9" fill="#ff0000"/>
<circle cx="124.5" cy="9.04" r="2.9" fill="#ff0000"/>
<circle cx="131" cy="10.77" r="2.9" fill="#ff0000"/>
<circle cx="146.7" cy="20.79" r="2.9" fill="#ff0000"/>
<circle cx="152" cy="28.66" r="2.9" fill="#ff0000"/>
<circle cx="154.5" cy="34.02" r="2.9" fill="#ff0000"/>
<circle cx="156.9" cy="40.59" r="2.9" fill="#ff0000"/>
<circle cx="161.3" cy="57.69" r="2.9" fill="#ff0000"/>
<circle cx="163.15" cy="67.43" r="2.9" fill="#ff0000"/>
<circle cx="164.6" cy="76.34" r="2.9" fill="#ff0000"/>
<circle cx="171.3" cy="132.11" r="2.9" fill="#ff0000"/>
<circle cx="175" cy="166.62" r="2.9" fill="#ff0000"/>
<circle cx="183.2" cy="203.71" r="2.9" fill="#ff0000"/>
<circle cx="187.6" cy="198" r="2.9" fill="#ff0000"/>
<circle cx="191.8" cy="174.69" r="2.9" fill="#ff0000"/>
<circle cx="193.8" cy="163.23" r="2.9" fill="#ff0000"/>
<circle cx="195.9" cy="151.78" r="2.9" fill="#ff0000"/>
<circle cx="198.1" cy="140.64" r="2.9" fill="#ff0000"/>
<circle cx="199.9" cy="132.23" r="2.9" fill="#ff0000"/>
<circle cx="201.8" cy="124.05" r="2.9" fill="#ff0000"/>
<circle cx="203.8" cy="116.18" r="2.9" fill="#ff0000"/>
<circle cx="205.65" cy="109.52" r="2.9" fill="#ff0000"/>
<circle cx="207.95" cy="102.01" r="2.9" fill="#ff0000"/>
<circle cx="222.8" cy="68.54" r="2.9" fill="#ff0000"/>
<circle cx="226.85" cy="62.51" r="2.9" fill="#ff0000"/>
<circle cx="229.3" cy="59.3" r="2.9" fill="#ff0000"/>
<circle cx="233.15" cy="54.8" r="2.9" fill="#ff0000"/>
<circle cx="238.9" cy="49.13" r="2.9" fill="#ff0000"/>
<path d="M91.7 5.75h7.2l-3.6 6.3z" fill="#0000ff"/>
<path d="M95.16 6.41h7.2l-3.6 6.3z" fill="#0000ff"/>
<path d="M98.7 7.2h7.2l-3.6 6.3z" fill="#0000ff"/>
<path d="M102.4 8.19h7.2l-3.6 6.3z" fill="#0000ff"/>
<path d="M106.25 9.44h7.2l-3.6 6.3z" fill="#0000ff"/>
<path d="M110.1 10.96h7.2l-3.6 6.3z" fill="#0000ff"/>
<path d="M113.81 12.77h7.2l-3.6 6.3z" fill="#0000ff"/>
<path d="M117.52 15.01h7.2l-3.6 6.3z" fill="#0000ff"/>
<path d="M121.4 17.98h7.2l-3.6 6.3z" fill="#0000ff"/>
<path d="M125.48 22h7.2l-3.6 6.3z" fill="#0000ff"/>
<path d="M129.69 27.5h7.2l-3.6 6.3z" fill="#0000ff"/>
<path d="M134.05 35.22h7.2l-3.6 6.3z" fill="#0000ff"/>
<path d="M138.58 46.31h7.2l-3.6 6.3z" fill="#0000ff"/>
<path d="M143.05 61.54h7.2l-3.6 6.3z" fill="#0000ff"/>
<path d="M147.17 80.41h7.2l-3.6 6.3z" fill="#0000ff"/>
<path d="M150.78 101.16h7.2l-3.6 6.3z" fill="#0000ff"/>
<path d="M153.99 122.05h7.2l-3.6 6.3z" fill="#0000ff"/>
<path d="M157.03 142.37h7.2l-3.6 6.3z" fill="#0000ff"/>
<path d="M160.24 161.4h7.2l-3.6 6.3z" fill="#0000ff"/>
<path d="M163.88 176.03h7.2l-3.6 6.3z" fill="#0000ff"/>
<path d="M167.87 182.03h7.2l-3.6 6.3z" fill="#0000ff"/>
<path d="M171.94 174.65h7.2l-3.6 6.3z" fill="#0000ff"/>
<path d="M175.87 158.49h7.2l-3.6 6.3z" fill="#0000ff"/>
<path d="M179.69 142.99h7.2l-3.6 6.3z" fill="#0000ff"/>
<path d="M183.54 128.8h7.2l-3.6 6.3z" fill="#0000ff"/>
<path d="M187.51 115.91h7.2l-3.6 6.3z" fill="#0000ff"/>
<path d="M191.56 104.56h7.2l-3.6 6.3z" fill="#0000ff"/>
<path d="M195.6 94.78h7.2l-3.6 6.3z" fill="#0000ff"/>
<path d="M199.7 86.22h7.2l-3.6 6.3z" fill="#0000ff"/>
<path d="M204 78.49h7.2l-3.6 6.3z" fill="#0000ff"/>
<path d="M208.62 71.37h7.2l-3.6 6.3z" fill="#0000ff"/>
<path d="M213.56 64.85h7.2l-3.6 6.3z" fill="#0000ff"/>
<path d="M218.5 59.25h7.2l-3.6 6.3z" fill="#0000ff"/>
<path d="M222.98 54.85h7.2l-3.6 6.3z" fill="#0000ff"/>
<path d="M227.03 51.33h7.2l-3.6 6.3z" fill="#0000ff"/>
<path d="M231.52 47.84h7.2l-3.6 6.3z" fill="#0000ff"/>
<path d="M237.48 43.8h7.2l-3.6 6.3z" fill="#0000ff"/>
<path d="M244.8 39.58h7.2l-3.6 6.3z" fill="#0000ff"/>
<path d="M92.8 12.66v7.2l6.3-3.6z" fill="#00ff00"/>
<path d="M96.88 15.43v7.2l6.3-3.6z" fill="#00ff00"/>
<path d="M100.95 18.91v7.2l6.3-3.6z" fill="#00ff00"/>
<path d="M105.03 23.32v7.2l6.3-3.6z" fill="#00ff00"/>
<path d="M109.1 28.91v7.2l6.3-3.6z" fill="#00ff00"/>
<path d="M113.18 36.05v7.2l6.3-3.6z" fill="#00ff00"/>
<path d="M117.25 45.14v7.2l6.3-3.6z" fill="#00ff00"/>
<path d="M121.33 56.61v7.2l6.3-3.6z" fill="#00ff00"/>
<path d="M125.41 70.77v7.2l6.3-3.6z" fill="#00ff00"/>
<path d="M129.48 87.58v7.2l6.3-3.6z" fill="#00ff00"/>
<path d="M133.56 106.31v7.2l6.3-3.6z" fill="#00ff00"/>
<path d="M137.63 125.26v7.2l6.3-3.6z" fill="#00ff00"/>
<path d="M141.71 141.97v7.2l6.3-3.6z" fill="#00ff00"/>
<path d="M145.78 154.22v7.2l6.3-3.6z" fill="#00ff00"/>
<path d="M149.86 161.14v7.2l6.3-3.6z" fill="#00ff00"/>
<path d="M153.94 163.67v7.2l6.3-3.6z" fill="#00ff00"/>
<path d="M158.01 163.22v7.2l6.3-3.6z" fill="#00ff00"/>
<path d="M162.09 152.56v7.2l6.3-3.6z" fill="#00ff00"/>
<path d="M166.16 140.42v7.2l6.3-3.6z" fill="#00ff00"/>
<path d="M170.24 128.73v7.2l6.3-3.6z" fill="#00ff00"/>
<path d="M174.32 118v7.2l6.3-3.6z" fill="#00ff00"/>
<path d="M178.39 108.33v7.2l6.3-3.6z" fill="#00ff00"/>
<path d="M182.47 99.7v7.2l6.3-3.6z" fill="#00ff00"/>
<path d="M186.54 92.02v7.2l6.3-3.6z" fill="#00ff00"/>
<path d="M190.62 85.19v7.2l6.3-3.6z" fill="#00ff00"/>
<path d="M194.69 79.1v7.2l6.3-3.6z" fill="#00ff00"/>
<path d="M198.77 73.66v7.2l6.3-3.6z" fill="#00ff00"/>
<path d="M202.85 68.79v7.2l6.3-3.6z" fill="#00ff00"/>
<path d="M206.92 64.42v7.2l6.3-3.6z" fill="#00ff00"/>
<path d="M211 60.47v7.2l6.3-3.6z" fill="#00ff00"/>
<path d="M215.07 56.9v7.2l6.3-3.6z" fill="#00ff00"/>
<path d="M219.15 53.67v7.2l6.3-3.6z" fill="#00ff00"/>
<path d="M223.22 50.72v7.2l6.3-3.6z" fill="#00ff00"/>
<path d="M227.3 48.03v7.2l6.3-3.6z" fill="#00ff00"/>
<path d="M55.3 2.9l3.3 3.3l-3.3 3.3l-3.3-3.3z" fill="#7f0000"/>
<path d="M63.5 4.58l3.3 3.3l-3.3 3.3l-3.3-3.3z" fill="#7f0000"/>
<path d="M71.7 6.98l3.3 3.3l-3.3 3.3l-3.3-3.3z" fill="#7f0000"/>
<path d="M79.9 10.49l3.3 3.3l-3.3 3.3l-3.3-3.3z" fill="#7f0000"/>
<path d="M88.1 15.8l3.3 3.3l-3.3 3.3l-3.3-3.3z" fill="#7f0000"/>
<path d="M96.7 24.63l3.3 3.3l-3.3 3.3l-3.3-3.3z" fill="#7f0000"/>
<path d="M100.76 30.57l3.3 3.3l-3.3 3.3l-3.3-3.3z" fill="#7f0000"/>
<path d="M104.81 38.09l3.3 3.3l-3.3 3.3l-3.3-3.3z" fill="#7f0000"/>
<path d="M108.87 47.59l3.3 3.3l-3.3 3.3l-3.3-3.3z" fill="#7f0000"/>
<path d="M112.93 59.43l3.3 3.3l-3.3 3.3l-3.3-3.3z" fill="#7f0000"/>
<path d="M116.99 73.8l3.3 3.3l-3.3 3.3l-3.3-3.3z" fill="#7f0000"/>
<path d="M121.04 90.39l3.3 3.3l-3.3 3.3l-3.3-3.3z" fill="#7f0000"/>
<path d="M125.1 108.09l3.3 3.3l-3.3 3.3l-3.3-3.3z" fill="#7f0000"/>
<path d="M129.16 124.78l3.3 3.3l-3.3 3.3l-3.3-3.3z" fill="#7f0000"/>
<path d="M133.21 137.93l3.3 3.3l-3.3 3.3l-3.3-3.3z" fill="#7f0000"/>
<path d="M137.27 145.82l3.3 3.3l-3.3 3.3l-3.3-3.3z" fill="#7f0000"/>
<path d="M141.33 148.67l3.3 3.3l-3.3 3.3l-3.3-3.3z" fill="#7f0000"/>
<path d="M145.39 146.39l3.3 3.3l-3.3 3.3l-3.3-3.3z" fill="#7f0000"/>
<path d="M149.44 137.39l3.3 3.3l-3.3 3.3l-3.3-3.3z" fill="#7f0000"/>
<path d="M153.5 127.25l3.3 3.3l-3.3 3.3l-3.3-3.3z" fill="#7f0000"/>
<path d="M157.56 117.22l3.3 3.3l-3.3 3.3l-3.3-3.3z" fill="#7f0000"/>
<path d="M161.61 107.8l3.3 3.3l-3.3 3.3l-3.3-3.3z" fill="#7f0000"/>
<path d="M165.67 99.14l3.3 3.3l-3.3 3.3l-3.3-3.3z" fill="#7f0000"/>
<path d="M169.73 91.3l3.3 3.3l-3.3 3.3l-3.3-3.3z" fill="#7f0000"/>
<path d="M173.79 84.24l3.3 3.3l-3.3 3.3l-3.3-3.3z" fill="#7f0000"/>
<path d="M177.84 77.89l3.3 3.3l-3.3 3.3l-3.3-3.3z" fill="#7f0000"/>
<path d="M181.9 72.2l3.3 3.3l-3.3 3.3l-3.3-3.3z" fill="#7f0000"/>
<path d="M185.96 67.08l3.3 3.3l-3.3 3.3l-3.3-3.3z" fill="#7f0000"/>
<path d="M190.01 62.48l3.3 3.3l-3.3 3.3l-3.3-3.3z" fill="#7f0000"/>
<path d="M194.07 58.33l3.3 3.3l-3.3 3.3l-3.3-3.3z" fill="#7f0000"/>
<path d="M198.13 54.58l3.3 3.3l-3.3 3.3l-3.3-3.3z" fill="#7f0000"/>
<path d="M202.19 51.18l3.3 3.3l-3.3 3.3l-3.3-3.3z" fill="#7f0000"/>
<path d="M206.24 48.1l3.3 3.3l-3.3 3.3l-3.3-3.3z" fill="#7f0000"/>
<path d="M210.3 45.28l3.3 3.3l-3.3 3.3l-3.3-3.3z" fill="#7f0000"/>
<polygon points="56,11.61 53.58,10.21 53.58,7.41 56,6.01 58.42,7.41 58.42,10.21" fill="#007f00"/>
<polygon points="60.05,13.15 57.62,11.75 57.62,8.95 60.05,7.55 62.47,8.95 62.47,11.75" fill="#007f00"/>
<polygon points="64.09,14.98 61.67,13.58 61.67,10.78 64.09,9.38 66.52,10.78 66.52,13.58" fill="#007f00"/>
<polygon points="68.14,17.18 65.72,15.78 65.72,12.98 68.14,11.58 70.57,12.98 70.57,15.78" fill="#007f00"/>
<polygon points="72.19,19.83 69.76,18.43 69.76,15.63 72.19,14.23 74.61,15.63 74.61,18.43" fill="#007f00"/>
<polygon points="76.24,23.04 73.81,21.64 73.81,18.84 76.24,17.44 78.66,18.84 78.66,21.64" fill="#007f00"/>
<polygon points="80.28,26.94 77.86,25.54 77.86,22.74 80.28,21.34 82.71,22.74 82.71,25.54" fill="#007f00"/>
<polygon points="84.33,31.7 81.9,30.3 81.9,27.5 84.33,26.1 86.75,27.5 86.75,30.3" fill="#007f00"/>
<polygon points="88.38,37.51 85.95,36.11 85.95,33.31 88.38,31.91 90.8,33.31 90.8,36.11" fill="#007f00"/>
<polygon points="92.42,44.56 90,43.16 90,40.36 92.42,38.96 94.85,40.36 94.85,43.16" fill="#007f00"/>
<polygon points="96.47,53.07 94.05,51.67 94.05,48.87 96.47,47.47 98.9,48.87 98.9,51.67" fill="#007f00"/>
<polygon points="100.52,63.14 98.09,61.74 98.09,58.94 100.52,57.54 102.94,58.94 102.94,61.74" fill="#007f00"/>
<polygon points="104.56,74.73 102.14,73.33 102.14,70.53 104.56,69.13 106.99,70.53 106.99,73.33" fill="#007f00"/>
<polygon points="108.61,87.48 106.19,86.08 106.19,83.28 108.61,81.88 111.04,83.28 111.04,86.08" fill="#007f00"/>
<polygon points="112.66,100.61 110.23,99.21 110.23,96.41 112.66,95.01 115.08,96.41 115.08,99.21" fill="#007f00"/>
<polygon points="116.71,112.94 114.28,111.54 114.28,108.74 116.71,107.34 119.13,108.74 119.13,111.54" fill="#007f00"/>
<polygon points="120.75,123.14 118.33,121.74 118.33,118.94 120.75,117.54 123.18,118.94 123.18,121.74" fill="#007f00"/>
<polygon points="124.8,130.2 122.38,128.8 122.38,126 124.8,124.6 127.22,126 127.22,128.8" fill="#007f00"/>
<polygon points="128.85,133.93 126.42,132.53 126.42,129.73 128.85,128.33 131.27,129.73 131.27,132.53" fill="#007f00"/>
<polygon points="132.89,135.05 130.47,133.65 130.47,130.85 132.89,129.45 135.32,130.85 135.32,133.65" fill="#007f00"/>
<polygon points="136.94,131.99 134.52,130.59 134.52,127.79 136.94,126.39 139.37,127.79 139.37,130.59" fill="#007f00"/>
<polygon points="140.99,124.65 138.56,123.25 138.56,120.45 140.99,119.05 143.41,120.45 143.41,123.25" fill="#007f00"/>
<polygon points="145.04,116.71 142.61,115.31 142.61,112.51 145.04,111.11 147.46,112.51 147.46,115.31" fill="#007f00"/>
<polygon points="149.08,108.91 146.66,107.51 146.66,104.71 149.08,103.31 151.51,104.71 151.51,107.51" fill="#007f00"/>
<polygon points="153.13,101.53 150.7,100.13 150.7,97.33 153.13,95.93 155.55,97.33 155.55,100.13" fill="#007f00"/>
<polygon points="157.18,94.69 154.75,93.29 154.75,90.49 157.18,89.09 159.6,90.49 159.6,93.29" fill="#007f00"/>
<polygon points="161.22,88.4 158.8,87 158.8,84.2 161.22,82.8 163.65,84.2 163.65,87" fill="#007f00"/>
<polygon points="165.27,82.66 162.85,81.26 162.85,78.46 165.27,77.06 167.7,78.46 167.7,81.26" fill="#007f00"/>
<polygon points="169.32,77.43 166.89,76.03 166.89,73.23 169.32,71.83 171.74,73.23 171.74,76.03" fill="#007f00"/>
<polygon points="173.36,72.68 170.94,71.28 170.94,68.48 173.36,67.08 175.79,68.48 175.79,71.28" fill="#007f00"/>
<polygon points="177.41,68.35 174.99,66.95 174.99,64.15 177.41,62.75 179.84,64.15 179.84,66.95" fill="#007f00"/>
<polygon points="181.46,64.41 179.03,63.01 179.03,60.21 181.46,58.81 183.88,60.21 183.88,63.01" fill="#007f00"/>
<polygon points="185.51,60.81 183.08,59.41 183.08,56.61 185.51,55.21 187.93,56.61 187.93,59.41" fill="#007f00"/>
<polygon points="189.55,57.53 187.13,56.13 187.13,53.33 189.55,51.93 191.98,53.33 191.98,56.13" fill="#007f00"/>
<polygon points="193.6,54.52 191.18,53.12 191.18,50.32 193.6,48.92 196.02,50.32 196.02,53.12" fill="#007f00"/>
<rect x="52.7" y="7.72" width="4.2" height="4.2" fill="#ff8000"/>
<rect x="56.77" y="9.54" width="4.2" height="4.2" fill="#ff8000"/>
<rect x="60.84" y="11.85" width="4.2" height="4.2" fill="#ff8000"/>
<rect x="64.92" y="14.78" width="4.2" height="4.2" fill="#ff8000"/>
<rect x="68.99" y="18.55" width="4.2" height="4.2" fill="#ff8000"/>
<rect x="73.06" y="23.42" width="4.2" height="4.2" fill="#ff8000"/>
<rect x="77.13" y="29.74" width="4.2" height="4.2" fill="#ff8000"/>
<rect x="81.21" y="37.91" width="4.2" height="4.2" fill="#ff8000"/>
<rect x="85.28" y="48.31" width="4.2" height="4.2" fill="#ff8000"/>
<rect x="89.35" y="61.09" width="4.2" height="4.2" fill="#ff8000"/>
<rect x="93.42" y="75.82" width="4.2" height="4.2" fill="#ff8000"/>
<rect x="97.5" y="91.08" width="4.2" height="4.2" fill="#ff8000"/>
<rect x="101.57" y="104.49" width="4.2" height="4.2" fill="#ff8000"/>
<rect x="105.64" y="113.72" width="4.2" height="4.2" fill="#ff8000"/>
<rect x="109.71" y="118" width="4.2" height="4.2" fill="#ff8000"/>
<rect x="113.79" y="118.76" width="4.2" height="4.2" fill="#ff8000"/>
<rect x="117.86" y="109.11" width="4.2" height="4.2" fill="#ff8000"/>
<rect x="121.93" y="98.21" width="4.2" height="4.2" fill="#ff8000"/>
<rect x="126" y="88.18" width="4.2" height="4.2" fill="#ff8000"/>
<rect x="130.08" y="79.35" width="4.2" height="4.2" fill="#ff8000"/>
<rect x="134.15" y="71.68" width="4.2" height="4.2" fill="#ff8000"/>
<rect x="138.22" y="65.05" width="4.2" height="4.2" fill="#ff8000"/>
<rect x="142.29" y="59.31" width="4.2" height="4.2" fill="#ff8000"/>
<rect x="146.37" y="54.32" width="4.2" height="4.2" fill="#ff8000"/>
<rect x="150.44" y="49.96" width="4.2" height="4.2" fill="#ff8000"/>
<rect x="154.51" y="46.14" width="4.2" height="4.2" fill="#ff8000"/>
<rect x="158.58" y="42.76" width="4.2" height="4.2" fill="#ff8000"/>
<rect x="162.66" y="39.77" width="4.2" height="4.2" fill="#ff8000"/>
<rect x="166.73" y="37.11" width="4.2" height="4.2" fill="#ff8000"/>
<rect x="170.8" y="34.72" width="4.2" height="4.2" fill="#ff8000"/>
<circle cx="54.8" cy="12.84" r="2.9" fill="#8000ff"/><circle cx="55.1" cy="12.54" r="1.1" fill="#f0e6ff"/>
<circle cx="58.89" cy="14.69" r="2.9" fill="#8000ff"/><circle cx="59.19" cy="14.39" r="1.1" fill="#f0e6ff"/>
<circle cx="62.97" cy="17.41" r="2.9" fill="#8000ff"/><circle cx="63.27" cy="17.11" r="1.1" fill="#f0e6ff"/>
<circle cx="67.06" cy="21.47" r="2.9" fill="#8000ff"/><circle cx="67.36" cy="21.17" r="1.1" fill="#f0e6ff"/>
<circle cx="71.14" cy="27.69" r="2.9" fill="#8000ff"/><circle cx="71.44" cy="27.39" r="1.1" fill="#f0e6ff"/>
<circle cx="75.23" cy="37.23" r="2.9" fill="#8000ff"/><circle cx="75.53" cy="36.93" r="1.1" fill="#f0e6ff"/>
<circle cx="79.31" cy="51.43" r="2.9" fill="#8000ff"/><circle cx="79.61" cy="51.13" r="1.1" fill="#f0e6ff"/>
<circle cx="83.4" cy="70.38" r="2.9" fill="#8000ff"/><circle cx="83.7" cy="70.08" r="1.1" fill="#f0e6ff"/>
<circle cx="87.49" cy="90.17" r="2.9" fill="#8000ff"/><circle cx="87.79" cy="89.87" r="1.1" fill="#f0e6ff"/>
<circle cx="91.57" cy="103.49" r="2.9" fill="#8000ff"/><circle cx="91.87" cy="103.19" r="1.1" fill="#f0e6ff"/>
<circle cx="95.66" cy="107.68" r="2.9" fill="#8000ff"/><circle cx="95.96" cy="107.38" r="1.1" fill="#f0e6ff"/>
<circle cx="99.74" cy="104.14" r="2.9" fill="#8000ff"/><circle cx="100.04" cy="103.84" r="1.1" fill="#f0e6ff"/>
<circle cx="103.83" cy="91.69" r="2.9" fill="#8000ff"/><circle cx="104.13" cy="91.39" r="1.1" fill="#f0e6ff"/>
<circle cx="107.91" cy="79.03" r="2.9" fill="#8000ff"/><circle cx="108.21" cy="78.73" r="1.1" fill="#f0e6ff"/>
<circle cx="112" cy="68.11" r="2.9" fill="#8000ff"/><circle cx="112.3" cy="67.81" r="1.1" fill="#f0e6ff"/>
<circle cx="116.09" cy="59.14" r="2.9" fill="#8000ff"/><circle cx="116.39" cy="58.84" r="1.1" fill="#f0e6ff"/>
<circle cx="120.17" cy="51.88" r="2.9" fill="#8000ff"/><circle cx="120.47" cy="51.58" r="1.1" fill="#f0e6ff"/>
<circle cx="124.26" cy="46.01" r="2.9" fill="#8000ff"/><circle cx="124.56" cy="45.71" r="1.1" fill="#f0e6ff"/>
<circle cx="128.34" cy="41.22" r="2.9" fill="#8000ff"/><circle cx="128.64" cy="40.92" r="1.1" fill="#f0e6ff"/>
<circle cx="132.43" cy="37.29" r="2.9" fill="#8000ff"/><circle cx="132.73" cy="36.99" r="1.1" fill="#f0e6ff"/>
<circle cx="136.51" cy="34.02" r="2.9" fill="#8000ff"/><circle cx="136.81" cy="33.72" r="1.1" fill="#f0e6ff"/>
<circle cx="140.6" cy="31.29" r="2.9" fill="#8000ff"/><circle cx="140.9" cy="30.99" r="1.1" fill="#f0e6ff"/>
<circle cx="144.69" cy="28.97" r="2.9" fill="#8000ff"/><circle cx="144.99" cy="28.67" r="1.1" fill="#f0e6ff"/>
<circle cx="148.77" cy="27" r="2.9" fill="#8000ff"/><circle cx="149.07" cy="26.7" r="1.1" fill="#f0e6ff"/>
<circle cx="152.86" cy="25.3" r="2.9" fill="#8000ff"/><circle cx="153.16" cy="25" r="1.1" fill="#f0e6ff"/>
<circle cx="156.94" cy="23.82" r="2.9" fill="#8000ff"/><circle cx="157.24" cy="23.52" r="1.1" fill="#f0e6ff"/>
<circle cx="161.03" cy="22.53" r="2.9" fill="#8000ff"/><circle cx="161.33" cy="22.23" r="1.1" fill="#f0e6ff"/>
<circle cx="165.11" cy="21.4" r="2.9" fill="#8000ff"/><circle cx="165.41" cy="21.1" r="1.1" fill="#f0e6ff"/>
<circle cx="169.2" cy="20.4" r="2.9" fill="#8000ff"/><circle cx="169.5" cy="20.1" r="1.1" fill="#f0e6ff"/>
</g>
<rect x="37.9" y="4.5" width="264.1" height="220.8" fill="none" stroke="#000" stroke-width="2.2"/>
<text x="32.5" y="10.3" class="lyt">1.0</text>
<text x="32.5" y="39.37" class="lyt">0.9</text>
<text x="32.5" y="68.44" class="lyt">0.8</text>
<text x="32.5" y="97.51" class="lyt">0.7</text>
<text x="32.5" y="126.58" class="lyt">0.6</text>
<text x="32.5" y="155.65" class="lyt">0.5</text>
<text x="32.5" y="184.72" class="lyt">0.4</text>
<text x="32.5" y="213.79" class="lyt">0.3</text>
<text x="37.9" y="238.9" class="lxt">36</text>
<text x="58.22" y="238.9" class="lxt">37</text>
<text x="78.54" y="238.9" class="lxt">38</text>
<text x="98.86" y="238.9" class="lxt">39</text>
<text x="119.18" y="238.9" class="lxt">40</text>
<text x="139.5" y="238.9" class="lxt">41</text>
<text x="159.82" y="238.9" class="lxt">42</text>
<text x="180.14" y="238.9" class="lxt">43</text>
<text x="200.46" y="238.9" class="lxt">44</text>
<text x="220.78" y="238.9" class="lxt">45</text>
<text x="241.1" y="238.9" class="lxt">46</text>
<text x="261.42" y="238.9" class="lxt">47</text>
<text x="281.74" y="238.9" class="lxt">48</text>
<text x="302.06" y="238.9" class="lxt">49</text>
<path d="M37.9 6.3h4.5 M37.9 35.37h4.5 M37.9 64.44h4.5 M37.9 93.51h4.5 M37.9 122.58h4.5 M37.9 151.65h4.5 M37.9 180.72h4.5 M37.9 209.79h4.5 M37.9 20.84h3 M37.9 49.91h3 M37.9 78.97h3 M37.9 108.05h3 M37.9 137.12h3 M37.9 166.19h3 M37.9 195.26h3 M37.9 225.3v-4.5 M58.22 225.3v-4.5 M78.54 225.3v-4.5 M98.86 225.3v-4.5 M119.18 225.3v-4.5 M139.5 225.3v-4.5 M159.82 225.3v-4.5 M180.14 225.3v-4.5 M200.46 225.3v-4.5 M220.78 225.3v-4.5 M241.1 225.3v-4.5 M261.42 225.3v-4.5 M281.74 225.3v-4.5 M302.06 225.3v-4.5 M48.06 225.3v-3 M68.38 225.3v-3 M88.7 225.3v-3 M109.02 225.3v-3 M129.34 225.3v-3 M149.66 225.3v-3 M169.98 225.3v-3 M190.3 225.3v-3 M210.62 225.3v-3 M230.94 225.3v-3 M251.26 225.3v-3 M271.58 225.3v-3 M291.9 225.3v-3" stroke="#000" stroke-width="1.6" fill="none"/>
<text transform="translate(13.2,118.2) rotate(-90)" class="ylab" text-anchor="middle" style="text-anchor:middle">Reflectance</text>
<text x="148.3" y="259.8" class="xlab">Angle (<tspan font-size="7" font-weight="normal" dy="-5.5" dx="0.4">o</tspan><tspan dy="5.5" dx="0.2">)</tspan></text>
<path d="M210.6 109.8H235.2" stroke="#000" stroke-width="1.6"/>
<text x="237.6" y="112.8" class="leg">Theoretical</text>
<text x="237.6" y="126" class="leg">0 ppm</text>
<text x="237.6" y="139.2" class="leg">0.5 ppm</text>
<text x="237.6" y="152.4" class="leg">1 ppm</text>
<text x="237.6" y="165.6" class="leg">5 ppm</text>
<text x="237.6" y="178.8" class="leg">10 ppm</text>
<text x="237.6" y="192" class="leg">50 ppm</text>
<text x="237.6" y="205.2" class="leg">100 ppm</text>
<circle cx="222.8" cy="123" r="3.1" fill="#ff0000"/>
<path d="M218.8 132.7h8l-4 7z" fill="#0000ff"/>
<path d="M219.8 145.5v7.8l7-3.9z" fill="#00ff00"/>
<path d="M222.8 158.6l4.2 4l-4.2 4l-4.2-4z" fill="#7f0000"/>
<polygon points="222.8,179.1 219.94,177.45 219.94,174.15 222.8,172.5 225.66,174.15 225.66,177.45" fill="#007f00"/>
<rect x="220.2" y="186.4" width="5.2" height="5.2" fill="#ff8000"/>
<circle cx="222.8" cy="202.2" r="3.4" fill="#8000ff"/><circle cx="223.5" cy="201.5" r="1.2" fill="#e8d8ff"/>
<text x="175.8" y="297.6" class="plab">(a)</text>
</g>
<g id="right">
<path d="M342.5 43.8L579.6 109.9" stroke="#000" stroke-width="1.6"/>
<path d="M342.5 203L575.6 123.6" stroke="#000" stroke-width="1.6"/>
<circle cx="350.56" cy="46.3" r="2.6" fill="#ff0000"/>
<circle cx="376" cy="55.3" r="2.6" fill="#ff0000"/>
<circle cx="435.06" cy="67" r="2.6" fill="#ff0000"/>
<circle cx="460.5" cy="74.9" r="2.6" fill="#ff0000"/>
<circle cx="519.56" cy="87.6" r="2.6" fill="#ff0000"/>
<circle cx="545" cy="101.7" r="2.6" fill="#ff0000"/>
<path d="M350.56 198.4l3.5 6h-7z" fill="#0000ff"/>
<path d="M376 185.8l3.5 6h-7z" fill="#0000ff"/>
<path d="M435.06 167.7l3.5 6h-7z" fill="#0000ff"/>
<path d="M460.5 149.6l3.5 6h-7z" fill="#0000ff"/>
<path d="M519.56 137.7l3.5 6h-7z" fill="#0000ff"/>
<path d="M545 131.8l3.5 6h-7z" fill="#0000ff"/>
<path d="M350.56 39.7v13.2 M348.56 39.7h4 M348.56 52.9h4 M376 48.9v12.8 M374 48.9h4 M374 61.7h4 M435.06 60.2v13.6 M433.06 60.2h4 M433.06 73.8h4 M460.5 68.1v13.6 M458.5 68.1h4 M458.5 81.7h4 M519.56 80.1v15 M517.56 80.1h4 M517.56 95.1h4 M545 94.3v14.8 M543 94.3h4 M543 109.1h4" stroke="#ff3030" stroke-width="0.9" fill="none"/>
<path d="M350.56 197.9v9.8 M348.56 197.9h4 M348.56 207.7h4 M376 185.8v8.8 M374 185.8h4 M374 194.6h4 M435.06 166.3v11.6 M433.06 166.3h4 M433.06 177.9h4 M460.5 147.1v13.8 M458.5 147.1h4 M458.5 160.9h4 M519.56 134.8v14.6 M517.56 134.8h4 M517.56 149.4h4 M545 129.1v14.2 M543 129.1h4 M543 143.3h4" stroke="#3030ff" stroke-width="0.9" fill="none"/>
<path d="M390.8 58.1V89.1H368" stroke="#ff0000" stroke-width="1.4" fill="none"/>
<path d="M360.9 89.1L369.7 86.5V91.7z" fill="#ff0000"/>
<path d="M552.6 131.5V157.7H573" stroke="#0000ff" stroke-width="1.4" fill="none"/>
<path d="M580.9 157.7L572 154.9V160.5z" fill="#0000ff"/>
<path d="M342.5 219.2H595.3" stroke="#000" stroke-width="2.2"/>
<path d="M342.5 12.5V220.3" stroke="#ff0000" stroke-width="2.4"/>
<path d="M595.3 12.5V220.3" stroke="#0000ff" stroke-width="2.4"/>
<path d="M341.3 12.5H596.5" stroke="#000" stroke-width="2.2"/>
<text x="338.2" y="222.3" class="ryt">30</text>
<text x="338.2" y="194.74" class="ryt">32</text>
<text x="338.2" y="167.18" class="ryt">34</text>
<text x="338.2" y="139.62" class="ryt">36</text>
<text x="338.2" y="112.06" class="ryt">38</text>
<text x="338.2" y="84.5" class="ryt">40</text>
<text x="338.2" y="56.94" class="ryt">42</text>
<text x="338.2" y="29.38" class="ryt">44</text>
<path d="M342.5 218.5h5.3 M342.5 204.72h3.4 M342.5 190.94h5.3 M342.5 177.16h3.4 M342.5 163.38h5.3 M342.5 149.6h3.4 M342.5 135.82h5.3 M342.5 122.04h3.4 M342.5 108.26h5.3 M342.5 94.48h3.4 M342.5 80.7h5.3 M342.5 66.92h3.4 M342.5 53.14h5.3 M342.5 39.36h3.4 M342.5 25.58h5.3 M342.5 11.8h3.4" stroke="#ff0000" stroke-width="1.8" fill="none"/>
<text x="599.6" y="196.35" class="bt">0.4</text>
<text x="599.6" y="144.85" class="bt">0.6</text>
<text x="599.6" y="93.35" class="bt">0.8</text>
<text x="599.6" y="41.85" class="bt">1.0</text>
<path d="M595.3 218.5h-3.4 M595.3 192.75h-5.3 M595.3 167h-3.4 M595.3 141.25h-5.3 M595.3 115.5h-3.4 M595.3 89.75h-5.3 M595.3 64h-3.4 M595.3 38.25h-5.3 M595.3 12.5h-3.4" stroke="#0000ff" stroke-width="1.8" fill="none"/>
<path d="M342.37 219.2v-3.4 M350.56 219.2v-3.4 M357.25 219.2v-3.4 M362.91 219.2v-3.4 M367.81 219.2v-3.4 M372.13 219.2v-3.4 M376 219.2v-5.2 M401.44 219.2v-3.4 M416.32 219.2v-3.4 M426.87 219.2v-3.4 M435.06 219.2v-3.4 M441.75 219.2v-3.4 M447.41 219.2v-3.4 M452.31 219.2v-3.4 M456.63 219.2v-3.4 M460.5 219.2v-5.2 M485.94 219.2v-3.4 M500.82 219.2v-3.4 M511.37 219.2v-3.4 M519.56 219.2v-3.4 M526.25 219.2v-3.4 M531.91 219.2v-3.4 M536.81 219.2v-3.4 M541.13 219.2v-3.4 M545 219.2v-5.2 M570.44 219.2v-3.4 M585.32 219.2v-3.4 M595.87 219.2v-3.4" stroke="#000" stroke-width="1.9" fill="none"/>
<text x="376" y="232.3" class="rxt">1</text>
<text x="460.5" y="232.3" class="rxt">10</text>
<text x="545" y="232.3" class="rxt">100</text>
<text x="416" y="244.8" class="clab">Concentration (ppm)</text>
<text transform="translate(623.5,42) rotate(90)" class="ylab">Minimum Reflectance</text>
<text transform="translate(316.3,128.2) rotate(-90)" class="th"><tspan class="thg">θ</tspan><tspan class="sub" dy="6.6" dx="0.3">SPR</tspan><tspan dy="-5.3" class="par" dx="1.5">(</tspan><tspan class="deg" dy="-7.5" dx="0.3">o</tspan><tspan class="par" dy="7.5" dx="0.3">)</tspan></text>
<text x="478.8" y="292.2" class="plab">(b)</text>
</g>
</svg></body></html>
